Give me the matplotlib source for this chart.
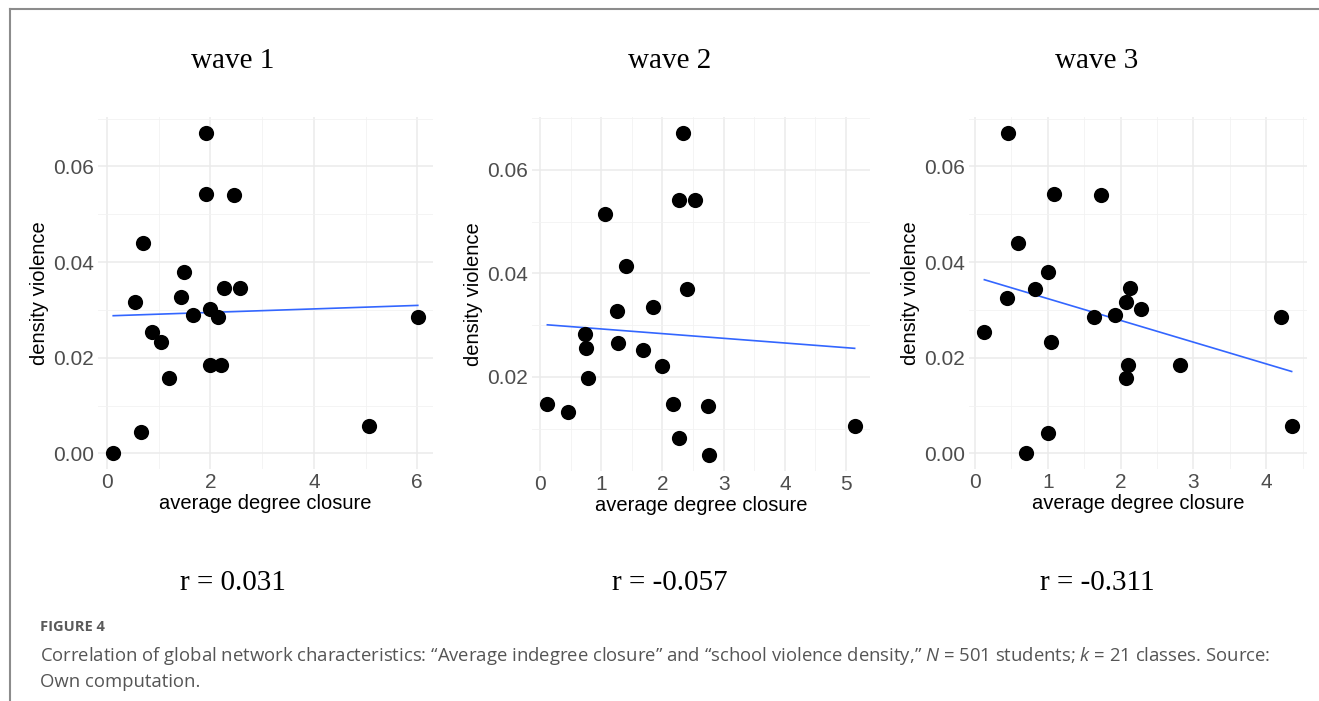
import numpy as np
import matplotlib
matplotlib.use("Agg")
from matplotlib import pyplot as plt
from matplotlib.lines import Line2D
from matplotlib.ticker import MultipleLocator, FormatStrFormatter

plt.rcParams["font.family"] = ["Liberation Sans", "DejaVu Sans"]
plt.rcParams["mathtext.fontset"] = "custom"
plt.rcParams["mathtext.it"] = "Open Sans:italic"
plt.rcParams["mathtext.rm"] = "Open Sans"

# average degree closure (x) and density violence (y), one point per class
wave1_x = [1.91, 1.92, 2.46, 0.70, 1.49, 0.55, 1.44, 2.27, 2.58, 1.67, 2.00,
           2.15, 6.01, 0.87, 1.04, 1.19, 1.99, 2.21, 5.07, 0.65, 0.12]
wave1_y = [0.0670, 0.0542, 0.0540, 0.0441, 0.0380, 0.0317, 0.0327, 0.0345, 0.0345, 0.0290, 0.0303,
           0.0286, 0.0286, 0.0253, 0.0234, 0.0157, 0.0184, 0.0184, 0.0058, 0.0044, 0.0001]

wave2_x = [2.34, 2.27, 2.54, 1.06, 1.41, 2.40, 1.25, 1.84, 0.73, 0.75, 1.27,
           1.68, 2.00, 0.78, 0.12, 0.46, 2.17, 2.74, 2.27, 2.76, 5.14]
wave2_y = [0.0671, 0.0541, 0.0541, 0.0515, 0.0414, 0.0369, 0.0327, 0.0334, 0.0282, 0.0255, 0.0265,
           0.0251, 0.0220, 0.0197, 0.0148, 0.0131, 0.0147, 0.0144, 0.0082, 0.0049, 0.0105]

wave3_x = [0.45, 1.08, 1.73, 0.59, 1.00, 0.83, 0.44, 2.13, 2.08, 2.28, 1.63,
           1.92, 4.20, 0.13, 1.04, 2.10, 2.07, 2.81, 4.35, 1.00, 0.70]
wave3_y = [0.0670, 0.0542, 0.0540, 0.0440, 0.0380, 0.0344, 0.0326, 0.0345, 0.0316, 0.0303, 0.0285,
           0.0290, 0.0286, 0.0253, 0.0234, 0.0185, 0.0157, 0.0184, 0.0058, 0.0043, 0.0001]

titles = ["wave 1", "wave 2", "wave 3"]
r_labels = ["r = 0.031", "r = -0.057", "r = -0.311"]
x_major = [2, 1, 1]

W, H = 1319, 701
fig = plt.figure(figsize=(W / 100, H / 100), dpi=100)

# panel boxes in pixels: left, right, top, bottom
boxes = [(98, 433, 117, 469), (532, 870, 117, 471), (969, 1307, 117, 469)]
centers = [233, 670, 1097]

data = [(wave1_x, wave1_y), (wave2_x, wave2_y), (wave3_x, wave3_y)]

for i, (xs, ys) in enumerate(data):
    l, r, t, b = boxes[i]
    ax = fig.add_axes([l / W, 1 - b / H, (r - l) / W, (b - t) / H])
    xs = np.array(xs)
    ys = np.array(ys)

    ax.grid(True, which="major", color="#EBEBEB", lw=1.1)
    ax.grid(True, which="minor", color="#F2F2F2", lw=0.6)
    ax.set_axisbelow(True)
    for s in ax.spines.values():
        s.set_visible(False)

    ax.scatter(xs, ys, s=120, color="black", zorder=3, linewidths=0)

    # linear fit, like geom_smooth(method = "lm", se = FALSE)
    k, c = np.polyfit(xs, ys, 1)
    lx = np.array([xs.min(), xs.max()])
    ax.plot(lx, k * lx + c, color="#3366FF", lw=1.2, zorder=2)

    xr = xs.max() - xs.min()
    yr = ys.max() - ys.min()
    ax.set_xlim(xs.min() - 0.05 * xr, xs.max() + 0.05 * xr)
    ax.set_ylim(ys.min() - 0.05 * yr, ys.max() + 0.05 * yr)

    ax.xaxis.set_major_locator(MultipleLocator(x_major[i]))
    ax.xaxis.set_minor_locator(MultipleLocator(x_major[i] / 2))
    ax.yaxis.set_major_locator(MultipleLocator(0.02))
    ax.yaxis.set_minor_locator(MultipleLocator(0.01))
    ax.yaxis.set_major_formatter(FormatStrFormatter("%.2f"))
    ax.tick_params(which="both", length=0)
    ax.tick_params(labelsize=15, labelcolor="#4D4D4D", pad=3)

    ax.set_xlabel("average degree closure", fontsize=14.5, labelpad=1)
    ax.set_ylabel("density violence", fontsize=14.5, labelpad=3)

    fig.text(centers[i] / W, 1 - 68 / H, titles[i], ha="center", va="baseline",
             fontsize=21, family="Liberation Serif")
    fig.text(centers[i] / W, 1 - 590 / H, r_labels[i], ha="center", va="baseline",
             fontsize=21, family="Liberation Serif")

fig.text(40 / W, 1 - 627 / H, "FIGURE 4", ha="left", va="center", fontsize=10.5,
         fontweight="bold", color="#5A5A5A", family="Open Sans")
fig.text(40 / W, 1 - 656 / H,
         "Correlation of global network characteristics: \u201cAverage indegree closure\u201d and "
         "\u201cschool violence density,\u201d $N$ = 501 students; $k$ = 21 classes. Source:",
         ha="left", va="center", fontsize=13.3, color="#555555", family="Open Sans")
fig.text(40 / W, 1 - 682 / H, "Own computation.", ha="left", va="center",
         fontsize=13.3, color="#555555", family="Open Sans")

# frame lines on top and left
fig.add_artist(Line2D([10 / W, 10 / W], [0, 1 - 9 / H], transform=fig.transFigure,
                      color="#8C8C8C", lw=1.5))
fig.add_artist(Line2D([10 / W, 1], [1 - 9 / H, 1 - 9 / H], transform=fig.transFigure,
                      color="#8C8C8C", lw=1.5))

fig.savefig("out.png", dpi=100)
